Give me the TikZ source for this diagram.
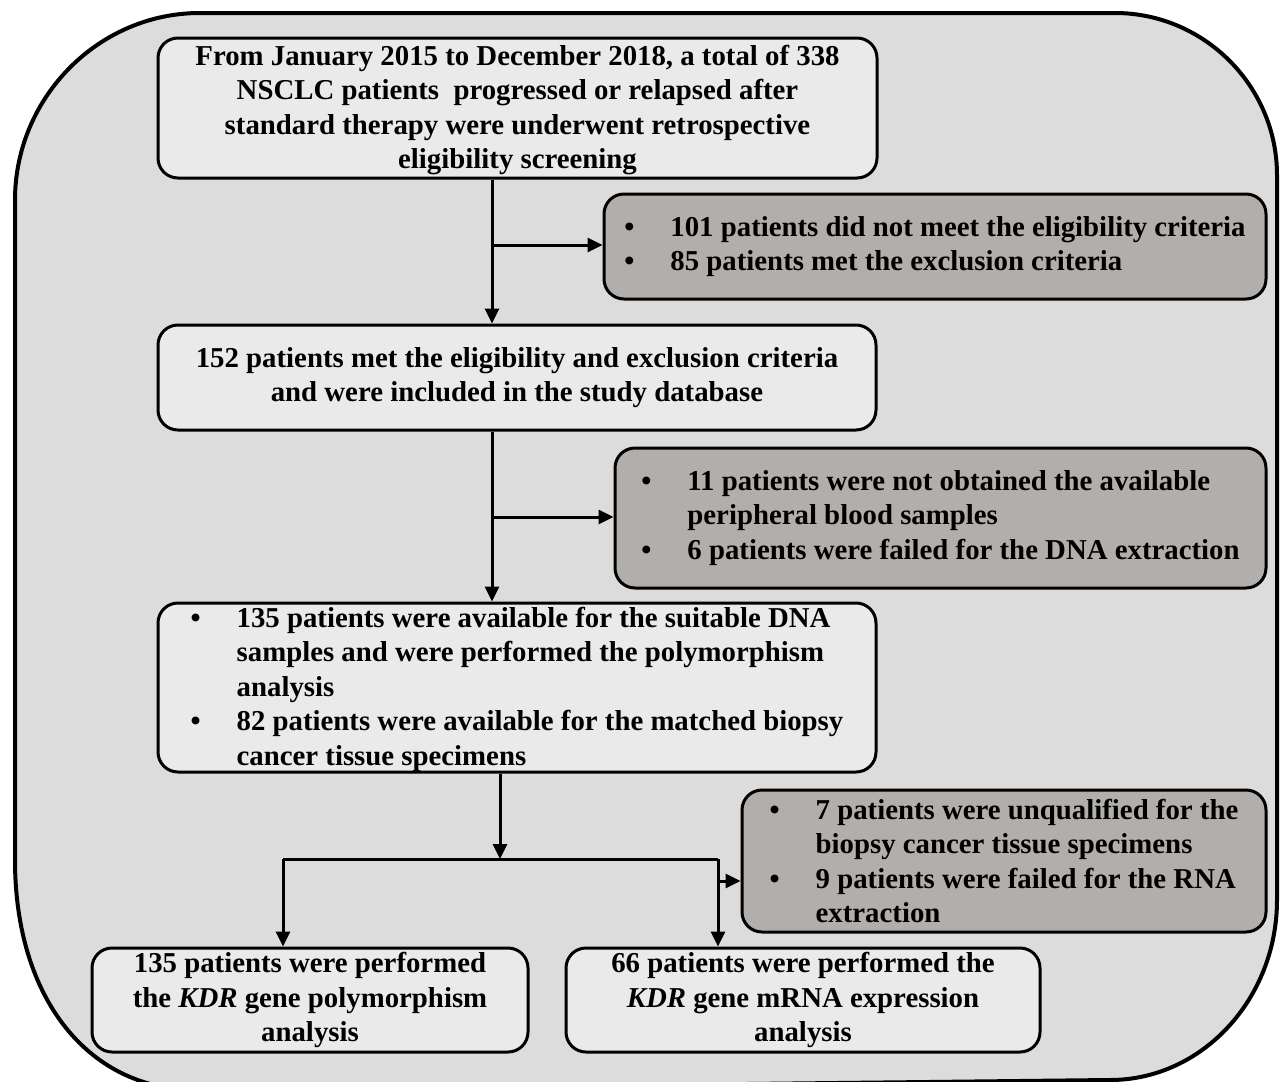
\documentclass[tikz,border=0pt]{standalone}
\usepackage{fontspec}
\setmainfont{Liberation Serif}
\usetikzlibrary{arrows.meta,calc}
\definecolor{outerbg}{RGB}{220,220,220}
\definecolor{lightbox}{RGB}{235,234,234}
\definecolor{darkbox}{RGB}{177,174,171}
\newcommand{\bul}{\makebox[46pt][l]{\textbullet}}
\newcommand{\ind}{\hspace*{46pt}}
\tikzset{
  boxbase/.style={draw=black, line width=3pt, rounded corners=20pt, inner sep=0pt,
    font=\fontsize{28.8}{34.5}\selectfont\bfseries},
  whitebox/.style={boxbase, fill=lightbox, align=center},
  greybox/.style={boxbase, fill=darkbox, align=left},
  conn/.style={line width=3pt, draw=black},
  arr/.style={conn, -{Triangle[length=15pt,width=14pt]}}
}
\begin{document}
\begin{tikzpicture}[x=1pt,y=-1pt]
\useasboundingbox (0,0) rectangle (1286,1082);
\fill[white] (0,0) rectangle (1286,1082);
% outer rounded frame
\filldraw[fill=outerbg, draw=black, line width=4pt]
  (15,200) .. controls (15,98) and (98,13) .. (200,13)
  -- (1115,13) .. controls (1204,13) and (1277,86) .. (1277,175)
  -- (1277,900) .. controls (1277,999) and (1202,1080) .. (1110,1080)
  -- (200,1090) .. controls (90,1092) and (15,1000) .. (15,860) -- cycle;

\node[whitebox, minimum width=719pt, minimum height=140pt] (b1) at (517.5,108)
  {\rule{0pt}{24pt}From January 2015 to December 2018, a total of 338\\
   NSCLC patients~ progressed or relapsed after\\
   standard therapy were underwent retrospective\\
   eligibility screening};
\node[greybox, minimum width=662pt, minimum height=105pt] (b2) at (935,246.5)
  {\bul 101 patients did not meet the eligibility criteria\\
   \bul 85 patients met the exclusion criteria};
\node[whitebox, minimum width=718pt, minimum height=105pt] (b3) at (517,377.5)
  {152 patients met the eligibility and exclusion criteria\\
   and were included in the study database};
\node[greybox, minimum width=651pt, minimum height=140pt] (b4) at (940.5,518)
  {\bul 11 patients were not obtained the available\\
   \ind peripheral blood samples\\
   \bul 6 patients were failed for the DNA extraction};
\node[greybox, fill=lightbox, minimum width=718pt, minimum height=169pt] (b5) at (517,687.5)
  {\rule{0pt}{24pt}\bul 135 patients were available for the suitable DNA\\
   \ind samples and were performed the polymorphism\\
   \ind analysis\\
   \bul 82 patients were available for the matched biopsy\\
   \ind cancer tissue specimens};
\node[greybox, minimum width=524pt, minimum height=142pt] (b6) at (1004,861)
  {\bul 7 patients were unqualified for the\\
   \ind biopsy cancer tissue specimens\\
   \bul 9 patients were failed for the RNA\\
   \ind extraction};
\node[whitebox, minimum width=436pt, minimum height=104pt] (b7) at (310,1000)
  {135 patients were performed\\
   the \textit{KDR} gene polymorphism\\
   analysis};
\node[whitebox, minimum width=474pt, minimum height=104pt] (b8) at (803,1000)
  {66 patients were performed the\\
   \textit{KDR} gene mRNA expression\\
   analysis};

% connectors
\coordinate (j1) at (492,245);
\draw[arr] (b1.south -| j1) -- (b3.north -| j1);
\draw[arr] (j1) -- (j1 -| b2.west);
\coordinate (j2) at (492,517);
\draw[arr] (b3.south -| j2) -- (b5.north -| j2);
\draw[arr] (j2) -- (j2 -| b4.west);
\coordinate (j3) at (500,859);
\draw[arr] (b5.south -| j3) -- (j3);
\coordinate (jl) at (283,859);
\coordinate (jr) at (718,859);
\draw[conn] (jl) -- (jr);
\draw[arr] (jl) -- (b7.north -| jl);
\draw[arr] (jr) -- (b8.north -| jr);
\coordinate (j4) at (718,881);
\draw[arr] (j4) -- (j4 -| b6.west);
\end{tikzpicture}
\end{document}
